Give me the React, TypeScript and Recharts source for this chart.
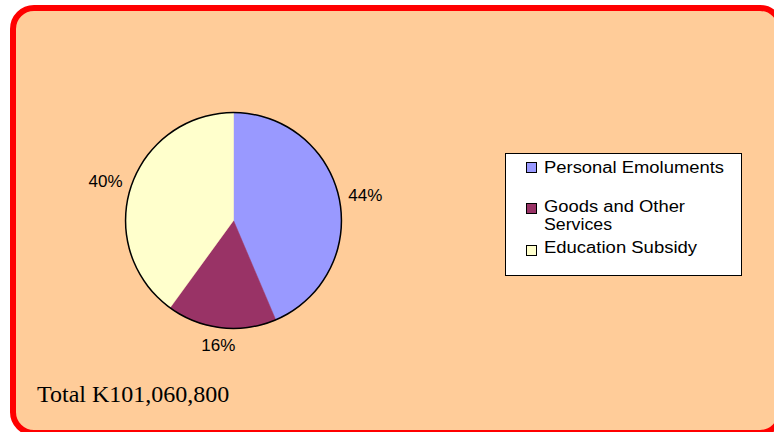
import React from 'react';
import { PieChart, Pie, Cell, Legend } from 'recharts';

const categories = ['Personal Emoluments', 'Goods and Other Services', 'Education Subsidy'];
const shares = [43.6, 16.4, 40.0];
const colors = ['#9999FF', '#993366', '#FFFFCC'];
const totalLabel = 'Total K101,060,800';

const data = categories.map((name, i) => ({ name, value: shares[i] }));
const ring = [{ name: 'outline', value: 1 }];

const RADIAN = Math.PI / 180;

const renderLabel = (props: any) => {
  const { cx, cy, midAngle, outerRadius, percent } = props;
  const ux = Math.cos(-midAngle * RADIAN);
  const uy = Math.sin(-midAngle * RADIAN);
  const r = outerRadius + 9;
  const x = cx + r * ux + 17.5 * ux;
  const y = cy + r * uy + 9 * uy;
  return (
    <text
      x={x}
      y={y}
      textAnchor="middle"
      dominantBaseline="central"
      fill="#000"
      fontFamily="'Liberation Sans', Arial, sans-serif"
      fontSize={17}
    >
      {`${Math.round(percent * 100)}%`}
    </text>
  );
};

const legendLines = [
  { lines: ['Personal Emoluments'], lens: [180], marker: 9, base: [19.5] },
  { lines: ['Goods and Other', 'Services'], lens: [141, 68], marker: 50, base: [58.8, 77.2] },
  { lines: ['Education Subsidy'], lens: [153], marker: 92, base: [100] },
];

const LegendBox = () => (
  <svg width={238} height={124} style={{ display: 'block' }}>
    <rect x={0.5} y={0.5} width={236} height={122} fill="#FFFFFF" stroke="#000" strokeWidth={1} />
    {legendLines.map((it, i) => (
      <g key={categories[i]}>
        <rect x={21.5} y={it.marker + 0.5} width={10} height={10} fill={colors[i]} stroke="#000" strokeWidth={1} />
        {it.lines.map((ln, j) => (
          <text
            key={ln}
            x={39}
            y={it.base[j]}
            fontFamily="'Liberation Sans', Arial, sans-serif"
            fontSize={16}
            fill="#000"
            textLength={it.lens[j]}
            lengthAdjust="spacingAndGlyphs"
          >
            {ln}
          </text>
        ))}
      </g>
    ))}
  </svg>
);

export default function App() {
  return (
    <div style={{ position: 'absolute', left: 0, top: 0, width: 774, height: 432, overflow: 'hidden', background: '#FFFFFF' }}>
      <div
        style={{
          position: 'absolute',
          left: 10,
          top: 5,
          width: 774,
          height: 431,
          boxSizing: 'border-box',
          border: '6px solid #FF0000',
          borderRadius: 24,
          background: '#FFCC99',
        }}
      />
      <div style={{ position: 'absolute', left: 0, top: 0 }}>
        <PieChart width={774} height={432} margin={{ top: 0, right: 0, bottom: 0, left: 0 }}>
          <Pie
            data={data}
            dataKey="value"
            nameKey="name"
            cx={233.5}
            cy={220.5}
            outerRadius={108}
            startAngle={90}
            endAngle={-270}
            label={renderLabel}
            labelLine={false}
            isAnimationActive={false}
          >
            {data.map((d, i) => (
              <Cell key={d.name} fill={colors[i]} stroke={colors[i]} strokeWidth={0.5} />
            ))}
          </Pie>
          <Pie
            data={ring}
            dataKey="value"
            cx={233.5}
            cy={220.5}
            innerRadius={107.2}
            outerRadius={108.7}
            startAngle={90}
            endAngle={-270}
            fill="#000"
            stroke="none"
            legendType="none"
            isAnimationActive={false}
          />
          <Legend
            content={() => <LegendBox />}
            wrapperStyle={{ position: 'absolute', left: 505, top: 153, width: 238, height: 124, margin: 0 }}
          />
        </PieChart>
      </div>
      <svg width={774} height={432} style={{ position: 'absolute', left: 0, top: 0, pointerEvents: 'none' }}>
        <text x={37} y={401.7} fontFamily="'Liberation Serif', 'Times New Roman', serif" fontSize={24} fill="#000">
          {totalLabel}
        </text>
      </svg>
    </div>
  );
}
